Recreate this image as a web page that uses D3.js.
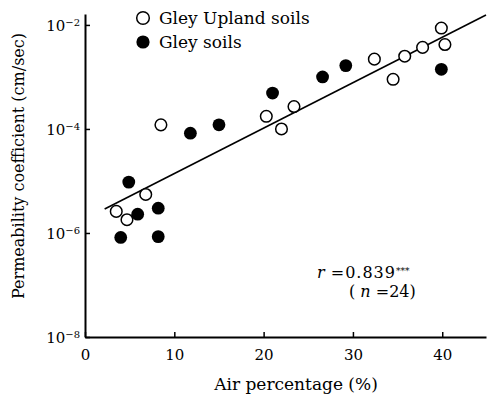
<!DOCTYPE html>
<html>
<head>
<meta charset="utf-8">
<script src="https://cdn.jsdelivr.net/npm/d3@7"></script>
<style>
  body { margin: 0; background: #fff; }
  text { font-family: "DejaVu Serif", "Liberation Serif", serif; fill: #000; }
</style>
</head>
<body>
<svg id="chart" width="487" height="404"></svg>
<script>
// Gley Upland soils (open circles)
const uplandAir = [3.5, 4.7, 6.8, 8.5, 20.3, 22.0, 23.4, 32.4, 34.5, 35.8, 37.8, 39.9, 40.3];
const uplandPerm = [2.6e-6, 1.8e-6, 5.5e-6, 1.2e-4, 1.75e-4, 1.0e-4, 2.7e-4, 2.2e-3, 9.0e-4, 2.5e-3, 3.7e-3, 8.7e-3, 4.2e-3];

// Gley soils (filled circles)
const gleyAir = [4.0, 4.9, 5.9, 8.2, 8.2, 11.8, 15.0, 21.0, 26.6, 29.2, 39.9];
const gleyPerm = [8.2e-7, 9.5e-6, 2.3e-6, 3.0e-6, 8.5e-7, 8.3e-5, 1.2e-4, 4.9e-4, 1.0e-3, 1.65e-3, 1.4e-3];

// regression line end points
const fitAir = [2.2, 44.9];
const fitPerm = [2.9e-6, 1.55e-2];

const xTicks = [0, 10, 20, 30, 40];
const yTicks = [1e-2, 1e-4, 1e-6, 1e-8];

const svg = d3.select('#chart');
const margin = { left: 85, right: 1, top: 14, bottom: 67 };
const width = 487, height = 404;

const x = d3.scaleLinear()
    .domain([0, 44.9])
    .range([margin.left, width - margin.right]);

const y = d3.scaleLog()
    .domain([1e-8, Math.pow(10, -1.79)])
    .range([height - margin.bottom, margin.top]);

// axes
const xAxis = svg.append('g')
    .attr('transform', `translate(0,${height - margin.bottom})`)
    .call(d3.axisBottom(x).tickValues(xTicks).tickSizeInner(-5).tickSizeOuter(0).tickPadding(12));

const yAxis = svg.append('g')
    .attr('transform', `translate(${margin.left},0)`)
    .call(d3.axisLeft(y).tickValues(yTicks).tickSizeInner(-5).tickSizeOuter(0).tickFormat(''));

[xAxis, yAxis].forEach(g => {
    g.attr('font-family', null).attr('font-size', null);
    g.select('.domain').attr('stroke', '#000').attr('stroke-width', 2);
    g.selectAll('.tick line').attr('stroke', '#000').attr('stroke-width', 1.5);
});
xAxis.selectAll('.tick text')
    .attr('font-size', 15);

// y tick labels as 10 with superscript exponent
yAxis.selectAll('.tick').each(function(d) {
    const exp = Math.round(Math.log10(d));
    const t = d3.select(this).append('text')
        .attr('x', -5)
        .attr('dy', '0.35em')
        .attr('text-anchor', 'end')
        .attr('font-size', 15);
    t.append('tspan').text('10');
    t.append('tspan')
        .attr('dy', '-0.5em')
        .attr('font-size', 10)
        .text('\u2212' + Math.abs(exp));
});

// regression line
svg.append('line')
    .attr('x1', x(fitAir[0]))
    .attr('y1', y(fitPerm[0]))
    .attr('x2', x(fitAir[1]))
    .attr('y2', y(fitPerm[1]))
    .attr('stroke', '#000')
    .attr('stroke-width', 1.6);

// points
svg.append('g').selectAll('circle')
    .data(uplandAir.map((a, i) => [a, uplandPerm[i]]))
    .enter()
    .append('circle')
    .attr('cx', d => x(d[0]))
    .attr('cy', d => y(d[1]))
    .attr('r', 5.8)
    .attr('fill', '#fff')
    .attr('stroke', '#000')
    .attr('stroke-width', 1.5);

svg.append('g').selectAll('circle')
    .data(gleyAir.map((a, i) => [a, gleyPerm[i]]))
    .enter()
    .append('circle')
    .attr('cx', d => x(d[0]))
    .attr('cy', d => y(d[1]))
    .attr('r', 6.4)
    .attr('fill', '#000');

// legend
svg.append('circle').attr('cx', 143).attr('cy', 18).attr('r', 6.3)
    .attr('fill', '#fff').attr('stroke', '#000').attr('stroke-width', 1.5);
svg.append('circle').attr('cx', 143).attr('cy', 42).attr('r', 6.6).attr('fill', '#000');
svg.append('text').attr('x', 159).attr('y', 24).attr('font-size', 17).text('Gley Upland soils');
svg.append('text').attr('x', 159).attr('y', 48).attr('font-size', 17).text('Gley soils');

// statistics
const stat1 = svg.append('text').attr('x', 317).attr('y', 278).attr('font-size', 16);
stat1.append('tspan').attr('font-style', 'italic').text('r');
stat1.append('tspan').text(' =0.839').attr('letter-spacing', 1);
stat1.append('tspan').attr('dy', '-0.45em').attr('font-size', 9).text('***');
const stat2 = svg.append('text').attr('x', 349).attr('y', 297).attr('font-size', 16);
stat2.append('tspan').text('( ');
stat2.append('tspan').attr('font-style', 'italic').text('n');
stat2.append('tspan').text(' =24)');

// axis titles
svg.append('text')
    .attr('x', 296)
    .attr('y', 390)
    .attr('text-anchor', 'middle')
    .attr('font-size', 17)
    .text('Air percentage (%)');

svg.append('text')
    .attr('transform', 'translate(24,166) rotate(-90)')
    .attr('text-anchor', 'middle')
    .attr('font-size', 16)
    .text('Permeability coefficient (cm/sec)');
</script>
</body>
</html>
